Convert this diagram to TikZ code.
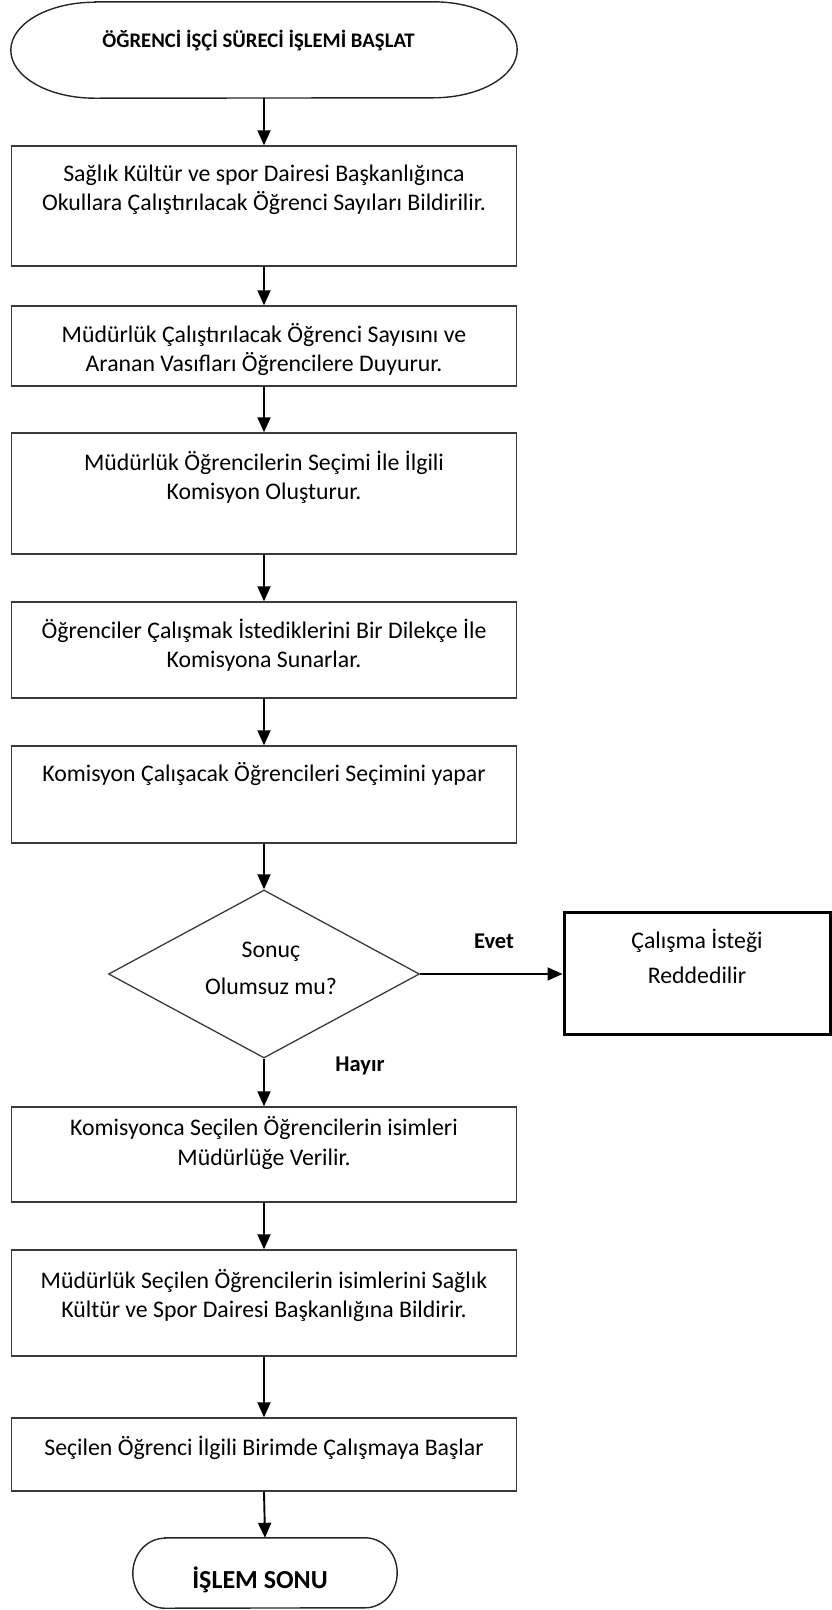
\documentclass[tikz,border=0pt]{standalone}
\usepackage{fontspec}
\setmainfont{Carlito}
\usetikzlibrary{arrows.meta,shapes.geometric}
\definecolor{edgegray}{HTML}{3A3A3A}
\newcommand{\tl}[1]{\begin{tabular}[t]{@{}c@{}}#1\end{tabular}}
\begin{document}
\begin{tikzpicture}[x=1pt,y=-1pt,
  box/.style={draw=edgegray, line width=1.4pt, rectangle, minimum width=505pt, inner sep=0pt},
  termline/.style={draw=black!85, line width=1.4pt},
  arr/.style={-{Triangle[length=15pt,width=13pt]}, line width=1.9pt, black},
  txt/.style={anchor=base, inner sep=0pt, font=\fontsize{23.8}{29}\selectfont},
  lbl/.style={anchor=base, inner sep=0pt, font=\fontsize{22.5}{27}\selectfont\bfseries},
]
\useasboundingbox (0,0) rectangle (831,1610);

% start terminator
\node[inner sep=0pt, minimum width=506pt, minimum height=96pt] (start) at (264,50) {};
\draw[termline] ([xshift=84pt]start.north west) -- ([xshift=-84pt]start.north east)
  arc[start angle=90, end angle=-90, x radius=84pt, y radius=48pt]
  -- ([xshift=84pt]start.south west)
  arc[start angle=270, end angle=90, x radius=84pt, y radius=48pt] -- cycle;
\node[anchor=base, inner sep=0pt, font=\fontsize{20.7}{25}\selectfont\bfseries] (starttxt) at (258.5,47) {ÖĞRENCİ İŞÇİ SÜRECİ İŞLEMİ BAŞLAT};

% process boxes
\node[box, minimum height=120pt] (b1) at (264,206) {};
\node[txt] (t1) at (264,181) {\tl{Sağlık Kültür ve spor Dairesi Başkanlığınca\\Okullara Çalıştırılacak Öğrenci Sayıları Bildirilir.}};

\node[box, minimum height=80pt] (b2) at (264,346) {};
\node[txt] (t2) at (264,342) {\tl{Müdürlük Çalıştırılacak Öğrenci Sayısını ve\\Aranan Vasıfları Öğrencilere Duyurur.}};

\node[box, minimum height=121pt] (b3) at (264,493.5) {};
\node[txt] (t3) at (264,470) {\tl{Müdürlük Öğrencilerin Seçimi İle İlgili\\Komisyon Oluşturur.}};

\node[box, minimum height=96pt] (b4) at (264,650) {};
\node[txt] (t4) at (264,638) {\tl{Öğrenciler Çalışmak İstediklerini Bir Dilekçe İle\\Komisyona Sunarlar.}};

\node[box, minimum height=97pt] (b5) at (264,794.5) {};
\node[txt] (t5) at (264,781) {Komisyon Çalışacak Öğrencileri Seçimini yapar};

% decision
\node[diamond, draw=edgegray, line width=1.3pt, minimum width=311pt, minimum height=168pt, inner sep=0pt] (dec) at (264,974) {};
\node[txt, font=\fontsize{23.8}{37}\selectfont] (dectxt) at (271,957) {\tl{Sonuç\\Olumsuz mu?}};

\node[box, draw=black, line width=3pt, minimum width=266pt, minimum height=122pt] (rej) at (697,973) {};
\node[txt, font=\fontsize{23.8}{35}\selectfont] (rejtxt) at (697,948) {\tl{Çalışma İsteği\\Reddedilir}};

\node[lbl] (evet) at (494,948) {Evet};
\node[lbl] (hayir) at (360,1071) {Hayır};

\node[box, minimum height=95pt] (b6) at (264,1154.5) {};
\node[txt, font=\fontsize{23.8}{30}\selectfont] (t6) at (264,1135) {\tl{Komisyonca Seçilen Öğrencilerin isimleri\\Müdürlüğe Verilir.}};

\node[box, minimum height=106pt] (b7) at (264,1303) {};
\node[txt] (t7) at (264,1288) {\tl{Müdürlük Seçilen Öğrencilerin isimlerini Sağlık\\Kültür ve Spor Dairesi Başkanlığına Bildirir.}};

\node[box, minimum height=73pt] (b8) at (264,1454.5) {};
\node[txt] (t8) at (264,1455) {Seçilen Öğrenci İlgili Birimde Çalışmaya Başlar};

% end terminator
\node[inner sep=0pt, minimum width=264pt, minimum height=70pt] (end) at (265,1573) {};
\draw[termline] ([xshift=32pt]end.north west) -- ([xshift=-32pt]end.north east)
  arc[start angle=90, end angle=-90, x radius=32pt, y radius=35pt]
  -- ([xshift=32pt]end.south west)
  arc[start angle=270, end angle=90, x radius=32pt, y radius=35pt] -- cycle;
\node[anchor=base, inner sep=0pt, font=\fontsize{26}{30}\selectfont\bfseries] (endtxt) at (260,1588) {İŞLEM SONU};

% connectors
\draw[arr] (start.south) -- (b1.north);
\draw[arr] (b1.south) -- (b2.north);
\draw[arr] (b2.south) -- (b3.north);
\draw[arr] (b3.south) -- (b4.north);
\draw[arr] (b4.south) -- (b5.north);
\draw[arr] (b5.south) -- (dec.north);
\draw[arr] (dec.east) -- (dec.east -| rej.west);
\draw[arr] (dec.south) -- (b6.north);
\draw[arr] (b6.south) -- (b7.north);
\draw[arr] (b7.south) -- (b8.north);
\draw[arr] (b8.south) -- (end.north);
\end{tikzpicture}
\end{document}
